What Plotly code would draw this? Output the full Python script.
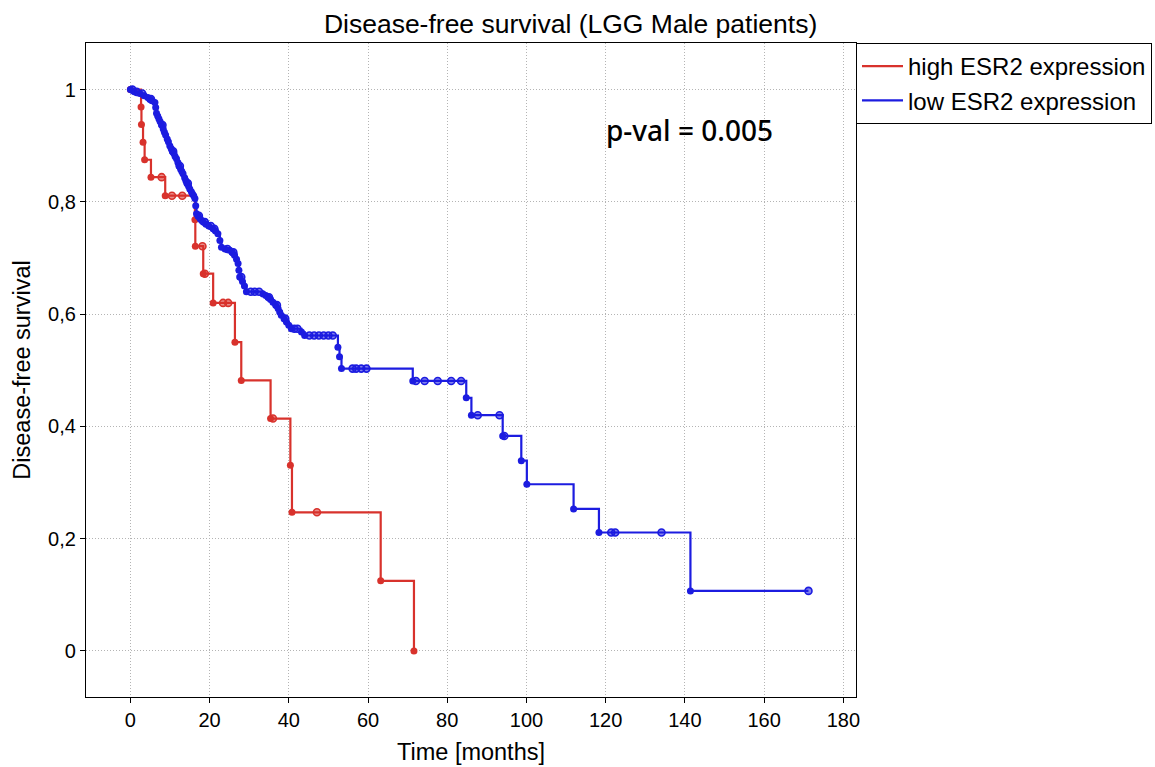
import plotly.graph_objects as go

# ---------------- data ----------------
# high ESR2 expression (red) : event times [months] and survival after each event
high_event_t = [2.7, 2.8, 3.2, 3.6, 5.2, 8.8, 16.3, 16.4, 18.4, 20.9, 26.4, 28.0, 35.4, 40.4, 40.8, 63.2, 71.6]
high_event_s = [0.969, 0.938, 0.906, 0.875, 0.844, 0.811, 0.768, 0.721, 0.672, 0.620, 0.550, 0.482, 0.414, 0.331, 0.247, 0.125, 0.0]
high_cens_t = [7.9, 10.5, 13.1, 18.2, 18.8, 23.4, 24.7, 36.0, 47.1]
high_cens_s = [0.844, 0.811, 0.811, 0.721, 0.672, 0.620, 0.620, 0.414, 0.247]

# low ESR2 expression (blue)
low_event_t = [1.0, 2.4, 3.5, 4.4, 4.9, 5.5, 6.2, 6.4, 6.6, 6.9, 7.2, 7.5, 7.9, 8.3, 8.6, 8.9, 9.3, 9.6,
               9.95, 10.3, 10.6, 11.0, 11.3, 11.65, 12.0, 12.3, 12.7, 13.0, 13.3, 13.7, 14.0, 14.3, 14.7,
               15.0, 15.4, 15.7, 16.0, 16.3, 16.5, 16.7, 17.1, 17.6, 18.0, 18.4, 19.1, 19.8, 20.9, 21.5,
               22.1, 22.6, 23.0, 23.9, 25.1, 25.7, 26.3, 26.8, 27.2, 27.4, 27.6, 28.3, 28.8, 29.3, 33.5,
               34.2, 34.75, 35.4, 36.0, 36.7, 37.3, 37.7, 38.1, 38.8, 39.4, 40.0, 40.65, 43.2, 44.0, 52.4,
               52.8, 53.3, 71.3, 84.8, 86.1, 94.0, 98.7, 100.1, 111.9, 118.3, 141.4]
low_event_s = [0.996, 0.993, 0.989, 0.986, 0.983, 0.980, 0.977, 0.968, 0.958, 0.953, 0.948, 0.943, 0.937,
               0.930, 0.924, 0.919, 0.912, 0.907, 0.900, 0.895, 0.890, 0.886, 0.881, 0.877, 0.870, 0.864,
               0.858, 0.854, 0.850, 0.843, 0.838, 0.833, 0.828, 0.823, 0.818, 0.814, 0.811, 0.806, 0.793,
               0.779, 0.775, 0.770, 0.767, 0.764, 0.760, 0.757, 0.752, 0.748, 0.743, 0.731, 0.719, 0.716,
               0.714, 0.710, 0.705, 0.698, 0.690, 0.678, 0.666, 0.658, 0.650, 0.640, 0.636, 0.633, 0.630,
               0.626, 0.621, 0.616, 0.610, 0.604, 0.598, 0.592, 0.586, 0.580, 0.574, 0.568, 0.562, 0.541,
               0.524, 0.503, 0.481, 0.451, 0.420, 0.383, 0.339, 0.297, 0.253, 0.211, 0.107]
low_cens_t = [0.5, 1.6, 3.0, 5.2, 8.1, 10.8, 12.5, 14.5, 17.3, 18.8, 20.3, 21.2, 24.5, 26.0, 28.0, 30.4,
              31.4, 32.5, 35.0, 37.0, 39.1, 41.4, 42.2, 45.2, 46.4, 47.6, 48.8, 50.0, 51.1, 56.1, 57.0,
              58.3, 59.6, 72.1, 74.3, 77.6, 81.0, 83.5, 87.7, 93.2, 94.4, 121.4, 122.4, 134.1, 171.2]
low_cens_s = [1.0, 0.996, 0.993, 0.983, 0.937, 0.890, 0.864, 0.833, 0.775, 0.764, 0.757, 0.752, 0.716,
              0.710, 0.666, 0.640, 0.640, 0.640, 0.630, 0.616, 0.592, 0.574, 0.574, 0.562, 0.562, 0.562,
              0.562, 0.562, 0.562, 0.503, 0.503, 0.503, 0.503, 0.481, 0.481, 0.481, 0.481, 0.481, 0.420,
              0.420, 0.383, 0.211, 0.211, 0.211, 0.107]

x_ticks = [0, 20, 40, 60, 80, 100, 120, 140, 160, 180]
y_ticks = [0, 0.2, 0.4, 0.6, 0.8, 1.0]
y_tick_labels = ["0", "0,2", "0,4", "0,6", "0,8", "1"]

series_names = ["high ESR2 expression", "low ESR2 expression"]
p_value_text = "p-val = 0.005"

RED = "#d8322c"
BLUE = "#1c1ce0"
RED_FILL = "rgba(216,50,44,0.55)"
BLUE_FILL = "rgba(28,28,224,0.55)"


def step_points(ev_t, ev_s, ce_t, ce_s):
    pts = sorted([(t, s) for t, s in zip(ev_t, ev_s)] + [(t, s) for t, s in zip(ce_t, ce_s)])
    xs = [0.0] + [p[0] for p in pts]
    ys = [1.0] + [p[1] for p in pts]
    return xs, ys


fig = go.Figure()

groups = [
    (series_names[0], RED, RED_FILL, high_event_t, high_event_s, high_cens_t, high_cens_s),
    (series_names[1], BLUE, BLUE_FILL, low_event_t, low_event_s, low_cens_t, low_cens_s),
]

for name, col, fill, et, es, ct, cs in groups:
    xs, ys = step_points(et, es, ct, cs)
    fig.add_trace(go.Scatter(x=xs, y=ys, mode="lines", line=dict(color=col, width=2.2, shape="hv"),
                             name=name, showlegend=True, hoverinfo="skip"))

for name, col, fill, et, es, ct, cs in groups:
    fig.add_trace(go.Scatter(x=[0.0] + et, y=[1.0] + es, mode="markers",
                             marker=dict(color=col, size=7, symbol="circle"),
                             showlegend=False, name=name))
    fig.add_trace(go.Scatter(x=ct, y=cs, mode="markers",
                             marker=dict(color=fill, size=7, symbol="circle",
                                         line=dict(color=col, width=1.6)),
                             showlegend=False, name=name))

FONT = "Liberation Sans, Arial, sans-serif"

fig.add_annotation(x=119.7, y=0.928, xref="x", yref="y", text=p_value_text, showarrow=False,
                   xanchor="left", yanchor="middle",
                   font=dict(family="Noto Sans, sans-serif", size=28, color="black", weight=500))

fig.update_layout(
    width=1155, height=767,
    margin=dict(l=86, r=299, t=43, b=70, autoexpand=False),
    paper_bgcolor="white", plot_bgcolor="white",
    font=dict(family=FONT, color="black"),
    title=dict(text="Disease-free survival (LGG Male patients)", x=0.494, xref="container",
               xanchor="center", y=1 - 24 / 767, yref="container", yanchor="middle",
               font=dict(family=FONT, size=26.5, color="black")),
    legend=dict(x=1.0, xanchor="left", y=1.0, yanchor="top", bordercolor="black", borderwidth=1,
                bgcolor="white", font=dict(family=FONT, size=24, color="black"),
                tracegroupgap=0, itemwidth=41),
    showlegend=True,
)

fig.update_xaxes(range=[-11.2, 183.2], tickvals=x_ticks, showgrid=True, gridcolor="#b4b4b4",
                 griddash="1px,2px", gridwidth=1, zeroline=False, showline=True, linecolor="black",
                 linewidth=1.3, mirror=True, ticks="outside", ticklen=5, tickcolor="black",
                 tickfont=dict(family=FONT, size=20, color="black"),
                 title=dict(text="Time [months]", font=dict(family=FONT, size=23.5, color="black"),
                            standoff=13))
fig.update_yaxes(range=[-0.082, 1.083], tickvals=y_ticks, ticktext=y_tick_labels, showgrid=True,
                 gridcolor="#b4b4b4", griddash="1px,2px", gridwidth=1, zeroline=False, showline=True,
                 linecolor="black", linewidth=1.3, mirror=True, ticks="outside", ticklen=5,
                 tickcolor="black", tickfont=dict(family=FONT, size=20, color="black"),
                 title=dict(text="Disease-free survival", font=dict(family=FONT, size=23.5, color="black"),
                            standoff=10))

fig.write_html("out.html", post_script="document.body.style.margin='0';",
               config={"displayModeBar": False})
